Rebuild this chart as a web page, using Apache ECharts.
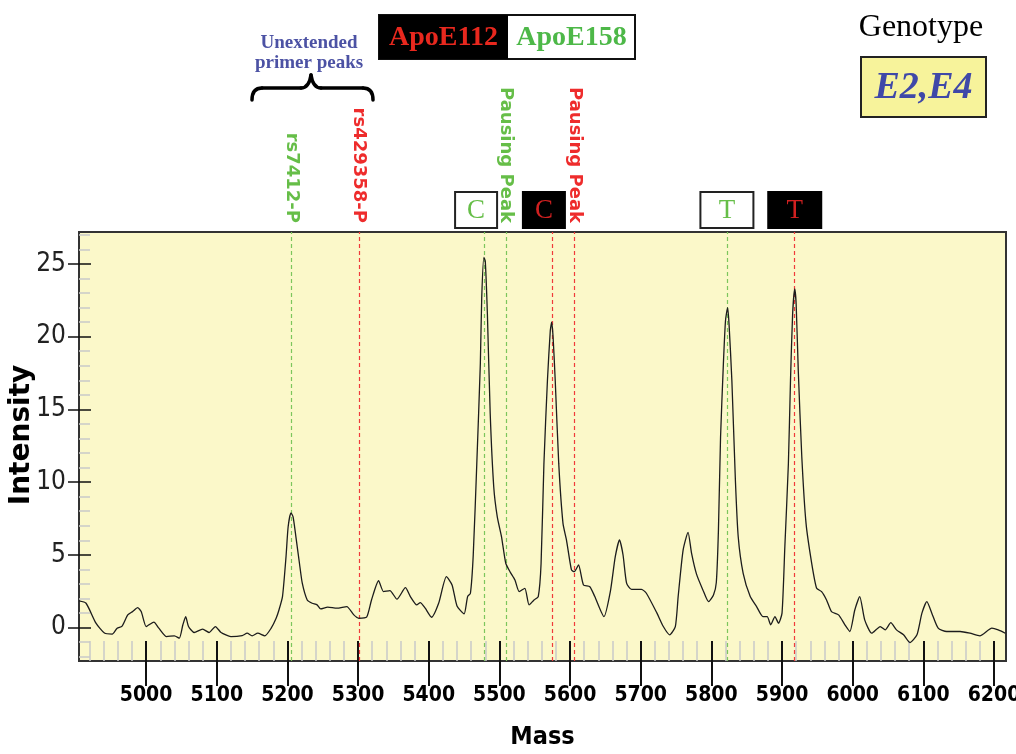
<!DOCTYPE html>
<html>
<head>
<meta charset="utf-8">
<script src="https://cdn.jsdelivr.net/npm/echarts@6/dist/echarts.min.js"></script>
<style>
html,body{margin:0;padding:0;background:#fff;}
#chart{width:1016px;height:754px;}
</style>
</head>
<body>
<div id="chart"></div>
<script>
// ---- data ----
const masses = [4905,4915,4929,4941,4952,4959,4966,4974,4981,4988,4993,5000,5004,5011,5018,5029,5040,5047,5052,5056,5060,5068,5080,5089,5098,5106,5120,5136,5143,5150,5158,5168,5177,5184,5188,5193,5198,5201,5205,5208,5212,5217,5221,5228,5235,5242,5247,5257,5270,5284,5294,5301,5312,5319,5329,5336,5345,5355,5367,5374,5383,5388,5395,5404,5414,5425,5433,5440,5450,5455,5459,5463,5468,5473,5475,5478,5480,5483,5487,5492,5497,5503,5509,5515,5522,5528,5536,5542,5549,5555,5559,5563,5568,5572,5574,5576,5579,5584,5590,5595,5602,5606,5612,5619,5628,5635,5648,5657,5664,5670,5675,5680,5687,5701,5708,5723,5732,5741,5749,5753,5760,5767,5772,5779,5788,5796,5803,5807,5810,5813,5817,5820,5823,5825,5829,5834,5838,5845,5855,5864,5873,5879,5884,5890,5895,5900,5904,5909,5912,5915,5918,5920,5923,5928,5934,5942,5949,5956,5963,5970,5980,5989,5996,6003,6010,6017,6027,6039,6046,6054,6062,6072,6081,6091,6098,6105,6112,6121,6133,6152,6166,6180,6197,6206,6216];
const intensity = [1.83,1.67,0.30,-0.38,-0.45,-0.04,0.10,0.87,1.10,1.37,1.10,0.07,0.19,0.37,-0.04,-0.62,-0.57,-0.73,0.19,0.75,0.07,-0.34,-0.11,-0.34,0.07,-0.34,-0.62,-0.55,-0.39,-0.57,-0.39,-0.57,-0.04,0.64,1.21,2.13,4.87,6.93,7.89,7.61,6.24,4.42,3.05,1.90,1.67,1.56,1.28,1.40,1.33,1.44,0.87,0.64,0.71,1.90,3.22,2.47,2.54,1.95,2.74,2.13,1.56,1.72,1.33,0.71,1.67,3.50,2.93,1.49,0.94,2.13,2.36,5.0,11.27,18.13,22.7,25.45,25.2,21.56,14.7,9.67,7.61,6.24,4.42,3.84,3.27,2.47,2.70,1.56,1.90,2.13,4.42,11.27,17.0,20.4,21.0,19.96,17.0,11.27,7.16,6.0,3.96,3.84,4.30,2.93,2.81,2.13,0.75,2.47,4.87,6.02,4.99,3.05,2.63,2.63,2.36,0.99,0.07,-0.50,0.07,2.13,5.33,6.55,5.10,3.67,2.59,1.78,2.24,3.10,6.70,13.1,18.13,21.1,22.0,20.88,17.0,10.13,6.24,3.73,2.13,1.44,0.75,0.75,0.19,0.75,0.30,0.99,5.56,11.27,17.0,21.56,23.28,22.25,17.67,11.73,7.16,4.42,2.70,2.47,1.90,1.10,0.87,0.19,-0.27,1.21,2.13,0.53,-0.39,0.07,-0.16,0.34,-0.16,-0.50,-1.03,-0.50,0.99,1.78,0.99,-0.04,-0.27,-0.27,-0.39,-0.57,-0.04,-0.16,-0.39];

const xMajorTicks = [5000,5100,5200,5300,5400,5500,5600,5700,5800,5900,6000,6100,6200];
const xMinorTicks = [4920,4940,4960,4980,5020,5040,5060,5080,5120,5140,5160,5180,5220,5240,5260,5280,5320,5340,5360,5380,5420,5440,5460,5480,5520,5540,5560,5580,5620,5640,5660,5680,5720,5740,5760,5780,5820,5840,5860,5880,5920,5940,5960,5980,6020,6040,6060,6080,6120,6140,6160,6180,6200];
const yMajorTicks = [0,5,10,15,20,25];
const yMinorTicks = [-2,-1,1,2,3,4,6,7,8,9,11,12,13,14,16,17,18,19,21,22,23,24,26,27];

// marker lines (mass, colour key)
const markerMasses = [5206,5301,5478,5509,5575,5606,5823,5918];
const markerKinds  = ['g','r','g','g','r','r','g','r'];
// rotated labels above marker lines
const labelTexts  = ['rs7412-P','rs429358-P','Pausing Peak','Pausing Peak'];
const labelMasses = [5206,5301,5509,5606];
const labelKinds  = ['g','r','g','r'];
// base call boxes
const boxLetters = ['C','C','T','T'];
const boxMasses  = [5467,5563,5822,5918];
const boxKinds   = ['g','r','g','r'];

const GREEN = '#66BE48', RED = '#EE2C2C';
const LINE_G = '#7CC65C', LINE_R = '#F03A3A';

const xMin = 4905, xMax = 6217, yMin = -2.3, yMax = 27.2;
const narrow = '"Liberation Sans Narrow","Arial Narrow","DejaVu Sans Condensed",sans-serif';

const chart = echarts.init(document.getElementById('chart'), null, {renderer:'canvas'});

const baseX = {type:'value', min:xMin, max:xMax, position:'bottom', splitLine:{show:false}, axisLine:{show:false, onZero:false}};
const baseY = {type:'value', min:yMin, max:yMax, position:'left', splitLine:{show:false}, axisLine:{show:false, onZero:false}};
const plain = v => String(v);

chart.setOption({
  animation:false,
  backgroundColor:'#ffffff',
  grid:{left:79, right:10, top:232, bottom:93, show:true, backgroundColor:'#FBF8C9', borderColor:'#333', borderWidth:2,
    containLabel:false, outerBoundsMode:'none'},
  xAxis:[
    Object.assign({}, baseX, {
      axisTick:{show:true, inside:true, length:20, customValues:xMinorTicks, lineStyle:{color:'#c9c9c9', width:1.5}},
      axisLabel:{show:false}
    }),
    Object.assign({}, baseX, {
      axisTick:{show:true, inside:false, length:25, customValues:xMajorTicks, lineStyle:{color:'#111', width:2}},
      axisLabel:{show:true, customValues:xMajorTicks, formatter:plain, hideOverlap:false, margin:24, color:'#000', fontFamily:narrow, fontWeight:'bold', fontSize:21},
      name:'Mass', nameLocation:'middle', nameGap:64,
      nameTextStyle:{color:'#000', fontFamily:narrow, fontWeight:'bold', fontSize:25}
    }),
    Object.assign({}, baseX, {
      axisTick:{show:true, inside:true, length:20, customValues:xMajorTicks, lineStyle:{color:'#111', width:2}},
      axisLabel:{show:false}
    })
  ],
  yAxis:[
    Object.assign({}, baseY, {
      axisTick:{show:true, inside:true, length:11, customValues:yMinorTicks, lineStyle:{color:'#c9c9c9', width:1.5}},
      axisLabel:{show:false}
    }),
    Object.assign({}, baseY, {
      axisTick:{show:true, inside:false, length:11, customValues:yMajorTicks, lineStyle:{color:'#111', width:1.5}},
      axisLabel:{show:true, customValues:yMajorTicks, formatter:plain, margin:13, color:'#222', fontFamily:narrow, fontSize:26}
    }),
    Object.assign({}, baseY, {
      axisTick:{show:true, inside:true, length:12, customValues:yMajorTicks, lineStyle:{color:'#111', width:1.5}},
      axisLabel:{show:false}
    })
  ],
  series:[{
    type:'line',
    xAxisIndex:0, yAxisIndex:0,
    data: masses.map((m,i)=>[m,intensity[i]]),
    showSymbol:false,
    smooth:0.2,
    lineStyle:{color:'#1c1c1c', width:1.3},
    z:5,
    markLine:{
      silent:true, symbol:['none','none'], label:{show:false},
      data: markerMasses.map((m,i)=>({xAxis:m, lineStyle:{color: markerKinds[i]==='g'?LINE_G:LINE_R, type:[4,3], width:1.2}}))
    }
  }]
});

// ---- annotations placed from the axis scale ----
const px = v => chart.convertToPixel({xAxisIndex:0}, v);
const g = [];

labelTexts.forEach((t,i)=>{
  g.push({type:'text', x:px(labelMasses[i]), y:223, rotation:-Math.PI/2,
    style:{text:t, fill: labelKinds[i]==='g'?GREEN:RED, font:'bold 18px "DejaVu Sans", sans-serif',
      textAlign:'right', textVerticalAlign:'middle'}});
});

boxLetters.forEach((t,i)=>{
  const cx = px(boxMasses[i]);
  const w = t==='C' ? 42 : 53;
  const dark = boxKinds[i]==='r';
  g.push({type:'rect', shape:{x:cx-w/2, y:192, width:w, height:36},
    style:{fill: dark?'#000':'#fff', stroke: dark?'#000':'#222', lineWidth:2}});
  g.push({type:'text', x:cx, y:211,
    style:{text:t, fill: dark?'#D02020':GREEN, font:'27px "Liberation Serif","DejaVu Serif",serif',
      textAlign:'center', textVerticalAlign:'middle'}});
});

// header: allele box
g.push({type:'rect', shape:{x:379, y:15, width:256, height:44}, style:{fill:'#fff', stroke:'#111', lineWidth:2}});
g.push({type:'rect', shape:{x:379, y:15, width:129, height:44}, style:{fill:'#000'}});
g.push({type:'text', x:443.5, y:38, style:{text:'ApoE112', fill:'#E8281E', font:'bold 28px "Liberation Serif",serif', textAlign:'center', textVerticalAlign:'middle'}});
g.push({type:'text', x:571.5, y:38, style:{text:'ApoE158', fill:'#4DB848', font:'bold 28px "Liberation Serif",serif', textAlign:'center', textVerticalAlign:'middle'}});

// unextended primer peaks
g.push({type:'text', x:309, y:43, style:{text:'Unextended', fill:'#4C52A4', font:'bold 19px "Liberation Serif",serif', textAlign:'center', textVerticalAlign:'middle'}});
g.push({type:'text', x:309, y:63, style:{text:'primer peaks', fill:'#4C52A4', font:'bold 19px "Liberation Serif",serif', textAlign:'center', textVerticalAlign:'middle'}});
const braceStyle = {fill:'none', stroke:'#000', lineWidth:3.5, lineCap:'round'};
g.push({type:'bezierCurve', shape:{x1:252,y1:100,x2:262,y2:88,cpx1:252,cpy1:88}, style:braceStyle});
g.push({type:'line', shape:{x1:262,y1:88,x2:301,y2:88}, style:braceStyle});
g.push({type:'bezierCurve', shape:{x1:301,y1:88,x2:311,y2:75,cpx1:309,cpy1:88}, style:braceStyle});
g.push({type:'bezierCurve', shape:{x1:311,y1:75,x2:321,y2:88,cpx1:313,cpy1:88}, style:braceStyle});
g.push({type:'line', shape:{x1:321,y1:88,x2:363,y2:88}, style:braceStyle});
g.push({type:'bezierCurve', shape:{x1:363,y1:88,x2:373,y2:100,cpx1:373,cpy1:88}, style:braceStyle});

// genotype
g.push({type:'text', x:921, y:28, style:{text:'Genotype', fill:'#000', font:'32px "Liberation Serif",serif', textAlign:'center', textVerticalAlign:'middle'}});
g.push({type:'rect', shape:{x:861, y:57, width:125, height:60}, style:{fill:'#F7F39B', stroke:'#222', lineWidth:2}});
g.push({type:'text', x:923.5, y:88, style:{text:'E2,E4', fill:'#3F48A8', font:'italic bold 38px "Liberation Serif",serif', textAlign:'center', textVerticalAlign:'middle'}});

// y axis title
g.push({type:'text', x:22, y:435, rotation:Math.PI/2,
  style:{text:'Intensity', fill:'#000', font:'bold 28px "DejaVu Sans",sans-serif', textAlign:'center', textVerticalAlign:'middle'}});

chart.setOption({graphic:g});
</script>
</body>
</html>
